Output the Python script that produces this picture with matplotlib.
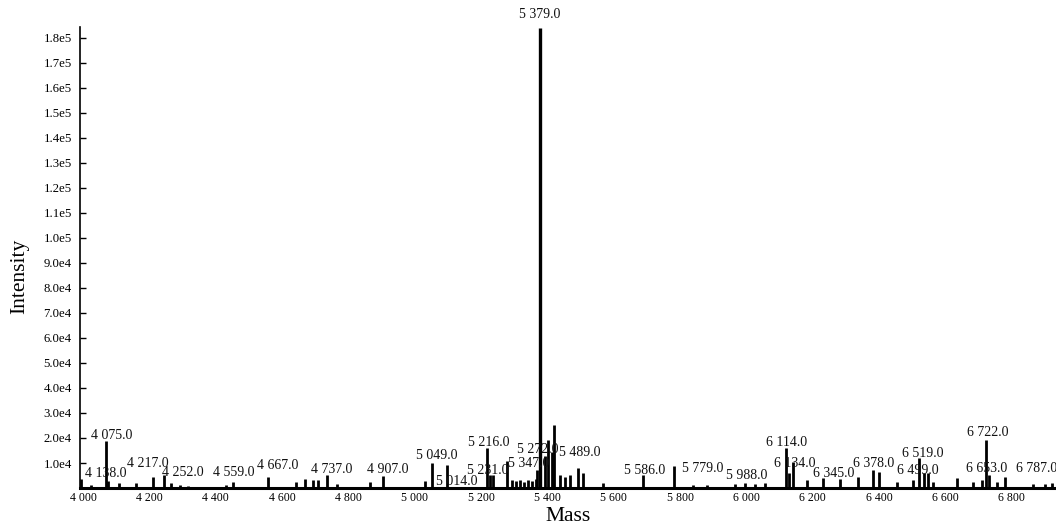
import matplotlib
matplotlib.use("Agg")
import matplotlib.pyplot as plt
from matplotlib.ticker import FixedLocator

plt.rcParams['font.family'] = ['Liberation Serif', 'DejaVu Serif']

# ---- data: peak masses and intensities ----
peak_mass = [3994, 4024, 4069, 4075, 4108, 4160, 4211, 4244, 4265, 4292, 4316,
             4431, 4452, 4558, 4642, 4669, 4693, 4708, 4735, 4766, 4865, 4904,
             5031, 5052, 5097, 5218, 5227, 5236, 5278, 5293, 5305, 5317, 5329,
             5341, 5353, 5365, 5368, 5377, 5392, 5401, 5413, 5419, 5438, 5453,
             5468, 5492, 5507, 5567, 5688, 5781, 5838, 5881, 5965, 5995, 6025,
             6055, 6119, 6128, 6140, 6182, 6230, 6281, 6336, 6381, 6399, 6453,
             6501, 6520, 6535, 6547, 6562, 6634, 6682, 6709, 6722, 6731, 6755,
             6779, 6863, 6899, 6920]
peak_intensity = [3500, 1200, 19000, 3000, 2000, 2000, 4400, 5200, 2000, 1200, 1000,
                  1200, 2400, 4400, 2400, 3600, 3200, 3200, 5200, 1600, 2400, 4800,
                  2800, 10000, 9200, 16000, 5200, 5200, 11000, 3200, 2800, 3200, 2400,
                  3200, 2800, 3600, 7200, 184000, 13000, 19200, 14400, 25200, 5200, 4400,
                  5200, 8000, 6000, 2000, 5200, 8800, 1200, 1200, 1600, 2000, 1600,
                  2000, 16000, 6000, 10400, 3200, 4000, 3600, 4400, 7200, 6400, 2400,
                  3200, 12000, 6000, 6000, 2400, 4000, 2400, 3200, 19200, 5200, 2400,
                  4400, 1600, 1600, 2000]

# peak labels: text, and where they sit (mass, intensity)
label_text = ["5 379.0", "4 075.0", "4 138.0", "4 217.0", "4 252.0", "4 559.0",
              "4 667.0", "4 737.0", "4 907.0", "5 049.0", "5 014.0", "5 216.0",
              "5 231.0", "5 347.0", "5 272.0", "5 489.0", "5 586.0", "5 779.0",
              "5 988.0", "6 114.0", "6 134.0", "6 345.0", "6 378.0", "6 499.0",
              "6 519.0", "6 653.0", "6 722.0", "6 787.0"]
label_mass = [5377, 4087, 4069, 4196, 4301, 4455, 4588, 4750, 4919, 5067, 5127, 5224,
              5221, 5344, 5371, 5498, 5694, 5869, 6001, 6122, 6146, 6263, 6384, 6517,
              6532, 6725, 6728, 6875]
label_intensity = [189200, 20800, 6000, 10000, 6400, 6400, 9200, 7600, 7600, 13200,
                   2800, 18400, 7200, 10000, 15600, 14400, 7200, 8000, 5200, 18400,
                   10000, 6000, 10000, 7200, 14000, 8000, 22000, 8000]

x_ticks = [4000, 4200, 4400, 4600, 4800, 5000, 5200, 5400, 5600, 5800, 6000,
           6200, 6400, 6600, 6800]
x_tick_labels = ["4 000", "4 200", "4 400", "4 600", "4 800", "5 000", "5 200",
                 "5 400", "5 600", "5 800", "6 000", "6 200", "6 400", "6 600", "6 800"]
y_ticks = [10000, 20000, 30000, 40000, 50000, 60000, 70000, 80000, 90000, 100000,
           110000, 120000, 130000, 140000, 150000, 160000, 170000, 180000]
y_tick_labels = ["1.0e4", "2.0e4", "3.0e4", "4.0e4", "5.0e4", "6.0e4", "7.0e4",
                 "8.0e4", "9.0e4", "1.0e5", "1.1e5", "1.2e5", "1.3e5", "1.4e5",
                 "1.5e5", "1.6e5", "1.7e5", "1.8e5"]

# ---- figure ----
fig = plt.figure(figsize=(10.56, 5.29), dpi=100)
ax = fig.add_axes([0.0758, 0.0775, 0.9242, 0.8715])

widths = [2.4 if v > 100000 else 2.0 for v in peak_intensity]
ax.vlines(peak_mass, 0, peak_intensity, colors='black', linewidths=widths)

for t, xm, yi in zip(label_text, label_mass, label_intensity):
    ax.text(xm, yi, t, ha='center', va='center', fontsize=10, color='#111111',
            clip_on=False)

ax.set_xlim(3991, 6933)
ax.set_ylim(0, 184400)

ax.xaxis.set_major_locator(FixedLocator(x_ticks))
ax.set_xticklabels(x_tick_labels, fontsize=8.5)
ax.yaxis.set_major_locator(FixedLocator(y_ticks))
ax.set_yticklabels(y_tick_labels, fontsize=9.2)

ax.tick_params(axis='y', direction='in', length=4, width=1, pad=6)
ax.tick_params(axis='x', length=0, pad=3)

for s in ['top', 'right']:
    ax.spines[s].set_visible(False)
ax.spines['left'].set_linewidth(1.2)
ax.spines['bottom'].set_linewidth(2.2)

ax.set_xlabel("Mass", fontsize=15.5, labelpad=2)
ax.set_ylabel("Intensity", fontsize=15.5)
ax.yaxis.set_label_coords(-0.052, 0.46)

fig.savefig("out.png", dpi=100)
